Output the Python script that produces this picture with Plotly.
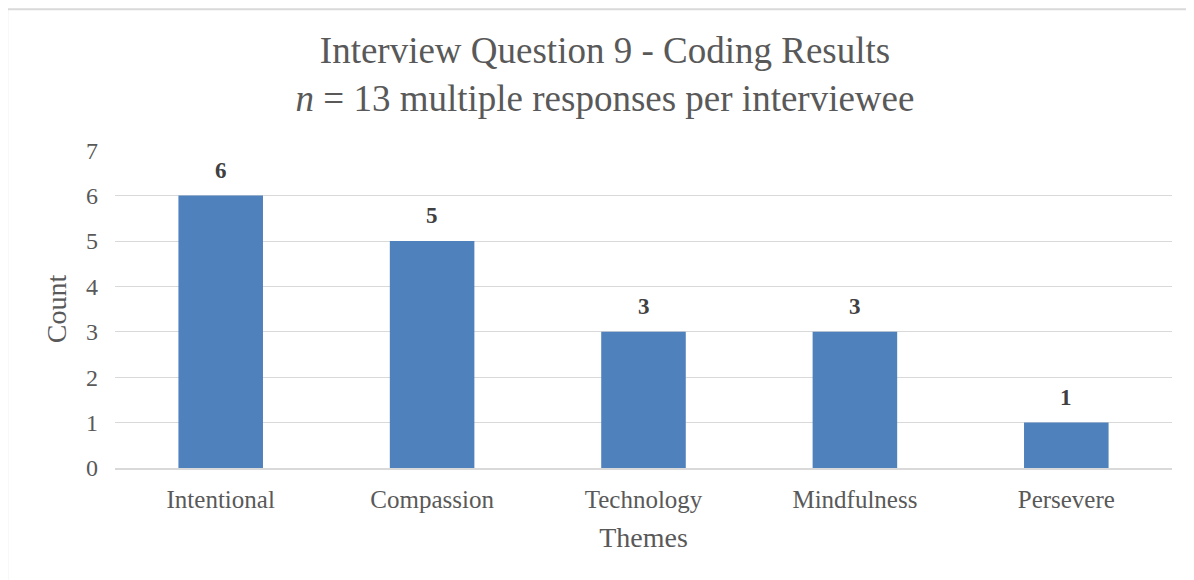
import plotly.graph_objects as go

themes = ["Intentional", "Compassion", "Technology", "Mindfulness", "Persevere"]
counts = [6, 5, 3, 3, 1]
y_ticks = [0, 1, 2, 3, 4, 5, 6, 7]

FONT = "Liberation Serif"
GREY = "#595959"

fig = go.Figure(go.Bar(
    x=themes, y=counts, marker=dict(color="#4f81bd", line=dict(width=0)),
    hoverinfo="x+y",
))

for t, c in zip(themes, counts):
    fig.add_annotation(x=t, y=c, text=f"<b>{c}</b>", showarrow=False,
                       yanchor="bottom", yshift=11,
                       font=dict(family=FONT, size=23, color="#404040"))

fig.update_layout(
    width=1194, height=580,
    margin=dict(l=107, r=30, t=142, b=120),
    paper_bgcolor="white", plot_bgcolor="white",
    bargap=0.6,
    showlegend=False,
    title=dict(
        text="Interview Question 9 - Coding Results<br><i>n</i> = 13 multiple responses per interviewee",
        x=0.5, xanchor="center", y=0.905, yanchor="top",
        font=dict(family=FONT, size=37, color=GREY),
    ),
    font=dict(family=FONT, color=GREY),
    xaxis=dict(
        title=dict(text="Themes", font=dict(family=FONT, size=28, color=GREY), standoff=15),
        tickfont=dict(family=FONT, size=25, color=GREY),
        showline=True, linecolor="#d9d9d9", linewidth=2,
        ticks="", showgrid=False, ticklabelstandoff=8,
    ),
    yaxis=dict(
        title=dict(text="Count", font=dict(family=FONT, size=28, color=GREY), standoff=11),
        tickfont=dict(family=FONT, size=24, color=GREY),
        range=[0, 7.005], tickvals=y_ticks, showgrid=True, gridcolor="#d9d9d9", gridwidth=1.3,
        zeroline=False, ticks="", ticklabelstandoff=16,
    ),
    shapes=[dict(type="rect", xref="paper", yref="paper",
                 x0=-0.102, x1=1.1, y0=-0.37, y1=1.443,
                 line=dict(color="#d9d9d9", width=2), layer="below")],
)

fig.write_html("out.html")
